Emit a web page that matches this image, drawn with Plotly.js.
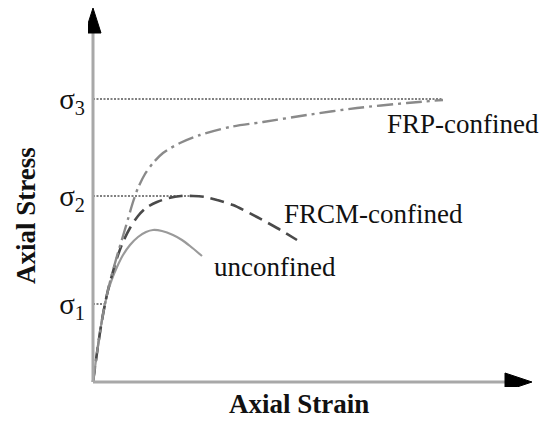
<!DOCTYPE html>
<html>
<head>
<meta charset="utf-8">
<script src="https://cdn.plot.ly/plotly-3.0.1.min.js"></script>
<style>html,body{margin:0;padding:0;background:#fff;}#chart{width:550px;height:426px;}</style>
</head>
<body>
<div id="chart"></div>
<script>
// Conceptual stress-strain curves (arbitrary units)
const unconfinedStrain = [0, 3, 6, 9, 12, 15, 19, 24, 30, 37, 45, 53, 60, 69, 80, 89, 97, 109];
const unconfinedStress = [0, 22, 43, 62, 78, 91, 103, 115, 127, 137, 145, 150, 152, 151, 147, 142, 136, 126];

const frcmStrain = [0, 3, 6, 9, 12, 15, 19, 24, 30, 37, 45, 53, 64, 76, 88, 100, 112, 124, 140, 164, 184, 204];
const frcmStress = [0, 22, 43, 62, 78, 92, 107, 124, 140, 154, 166, 174, 180, 184, 186, 186, 185, 182, 177, 165, 154, 142];

const frpStrain = [0, 3, 6, 9, 12, 15, 19, 24, 30, 35, 40, 45, 52, 60, 70, 87, 107, 137, 170, 214, 264, 314, 350];
const frpStress = [0, 22, 43, 62, 78, 92, 108, 126, 146, 163, 180, 194, 208, 219, 229, 239, 247, 255, 260, 267, 274, 279, 282];

const sigmaLevels = [78, 186, 283];
const sigmaLabels = ['σ<sub>1</sub>', 'σ<sub>2</sub>', 'σ<sub>3</sub>'];
const sigmaLineEnds = [12, 107, 350];

const curveNames = ['unconfined', 'FRCM-confined', 'FRP-confined'];

// geometry helpers (layout only)
const ML = 88, MB = 39, W = 550, H = 426;
const PW = W - ML, PH = H - MB;
const px2paperX = p => (p - ML) / PW;
const px2paperY = p => (PH - p) / PH;

const refX = [], refY = [];
sigmaLevels.forEach((s, i) => { refX.push(0, sigmaLineEnds[i], null); refY.push(s, s, null); });

const traces = [
  {x: refX, y: refY, mode: 'lines', line: {color: '#000', width: 1.1, dash: '2px,1.5px'}, hoverinfo: 'skip', showlegend: false},
  {x: unconfinedStrain, y: unconfinedStress, name: curveNames[0], mode: 'lines',
   line: {color: '#9a9a9a', width: 2.2, shape: 'spline', smoothing: 0.8}},
  {x: frcmStrain, y: frcmStress, name: curveNames[1], mode: 'lines',
   line: {color: '#4a4a4a', width: 2.6, shape: 'spline', smoothing: 0.8, dash: '14px,7px'}},
  {x: frpStrain, y: frpStress, name: curveNames[2], mode: 'lines',
   line: {color: '#8a8a8a', width: 2.4, shape: 'spline', smoothing: 0.8, dash: '16px,5px,3px,5px'}}
];

const serif = 'Liberation Serif, Times New Roman, serif';
const axisColor = '#a8a8a8';

const layout = {
  width: W, height: H,
  margin: {l: ML, r: 0, t: 0, b: MB},
  paper_bgcolor: '#fff', plot_bgcolor: '#fff',
  showlegend: false,
  xaxis: {range: [-5, PW - 5], showgrid: false, zeroline: false, showline: false,
          showticklabels: false, ticks: ''},
  yaxis: {range: [-5, PH - 5], showgrid: false, zeroline: false, showline: false,
          tickvals: sigmaLevels, ticktext: sigmaLabels, ticks: '',
          tickfont: {family: serif, size: 29, color: '#111'}, ticklabelstandoff: 2},
  shapes: [
    {type: 'line', xref: 'x', yref: 'y', x0: 0, y0: 0, x1: 412, y1: 0, line: {color: axisColor, width: 3}},
    {type: 'line', xref: 'x', yref: 'y', x0: 0, y0: 0, x1: 0, y1: 349, line: {color: axisColor, width: 3}},
    {type: 'path', xref: 'x', yref: 'y', path: 'M 412 9 L 439 0 L 412 -9 Z', fillcolor: '#000', line: {color: '#000', width: 1}},
    {type: 'path', xref: 'x', yref: 'y', path: 'M -8 349 L 0 374 L 8 349 Z', fillcolor: '#000', line: {color: '#000', width: 1}}
  ],
  annotations: [
    {text: 'FRP-confined', xref: 'x', yref: 'y', x: 292, y: 382 - 124, xanchor: 'left', yanchor: 'middle',
     showarrow: false, font: {family: serif, size: 27, color: '#111'}},
    {text: 'FRCM-confined', xref: 'x', yref: 'y', x: 189, y: 382 - 214, xanchor: 'left', yanchor: 'middle',
     showarrow: false, font: {family: serif, size: 27, color: '#111'}},
    {text: 'unconfined', xref: 'x', yref: 'y', x: 119, y: 382 - 267, xanchor: 'left', yanchor: 'middle',
     showarrow: false, font: {family: serif, size: 27, color: '#111'}},
    {text: '<b>Axial Strain</b>', xref: 'paper', yref: 'paper', x: px2paperX(299), y: px2paperY(404),
     xanchor: 'center', yanchor: 'middle', showarrow: false, font: {family: serif, size: 27, color: '#111'}},
    {text: '<b>Axial Stress</b>', xref: 'paper', yref: 'paper', x: px2paperX(26), y: px2paperY(216),
     xanchor: 'center', yanchor: 'middle', textangle: -90, showarrow: false, font: {family: serif, size: 27, color: '#111'}}
  ]
};

Plotly.newPlot('chart', traces, layout, {displayModeBar: false, staticPlot: true});
</script>
</body>
</html>
